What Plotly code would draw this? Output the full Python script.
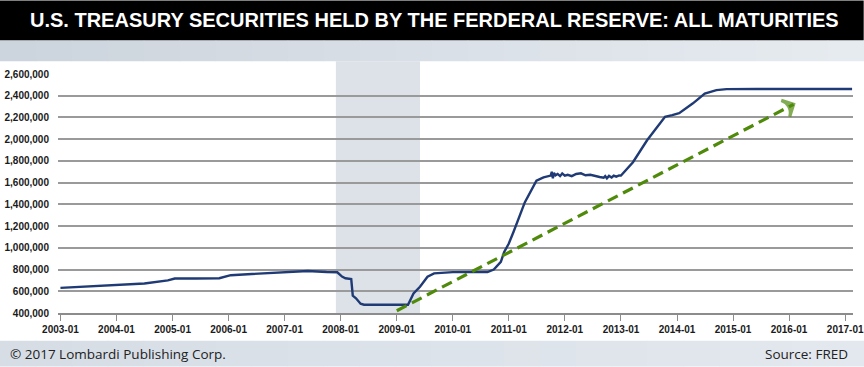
import plotly.graph_objects as go

# ---------------- data ----------------
dates = [
    "2003-01-01", "2003-07-01", "2004-01-01", "2004-07-01", "2004-12-01", "2005-01-15",
    "2005-06-01", "2005-11-01", "2006-01-15", "2006-06-01", "2006-09-01", "2007-01-01",
    "2007-06-01", "2007-10-01", "2007-12-10", "2008-01-10", "2008-02-01", "2008-03-10",
    "2008-03-20", "2008-04-10", "2008-05-10", "2008-06-01", "2009-03-15", "2009-04-20",
    "2009-06-01", "2009-07-20", "2009-09-01", "2010-01-01", "2010-08-15", "2010-09-25",
    "2010-10-20", "2010-11-10", "2010-12-01", "2011-01-01", "2011-02-01", "2011-04-15",
    "2011-06-30", "2011-08-15", "2011-10-01", "2011-10-08", "2011-10-15", "2011-10-22",
    "2011-11-01", "2011-11-15", "2011-12-01", "2011-12-15", "2012-01-01", "2012-01-20",
    "2012-02-15", "2012-03-15", "2012-04-15", "2012-05-15", "2012-06-15", "2012-07-15",
    "2012-08-15", "2012-09-10", "2012-09-20", "2012-10-01", "2012-10-15", "2012-11-01",
    "2012-11-15", "2012-12-01", "2012-12-20", "2013-01-01", "2013-03-20", "2013-06-20",
    "2013-10-15", "2013-12-01", "2014-01-15", "2014-04-15", "2014-07-01", "2014-09-15",
    "2014-11-20", "2015-06-01", "2016-06-01", "2017-02-15",
]
holdings = [
    631000, 645000, 655000, 672000, 700000, 717000,
    717000, 720000, 748000, 760000, 762000, 775000,
    787000, 778000, 775000, 735000, 720000, 712000,
    560000, 535000, 485000, 476000, 476000, 580000,
    642000, 734000, 765000, 776000, 777000, 800000,
    840000, 870000, 960000, 1040000, 1148000, 1418000,
    1618000, 1649000, 1665000, 1700000, 1640000, 1690000,
    1668000, 1680000, 1660000, 1685000, 1664000, 1672000,
    1660000, 1680000, 1686000, 1668000, 1672000, 1660000,
    1652000, 1645000, 1660000, 1640000, 1662000, 1648000,
    1665000, 1655000, 1667000, 1665000, 1788000, 1990000,
    2206000, 2221000, 2240000, 2330000, 2420000, 2452000,
    2461000, 2462000, 2463000, 2462000,
]

trend_dates = ["2009-01-01", "2016-01-31"]
trend_values = [421000, 2321000]

recession = ["2007-12-01", "2009-06-01"]

x_ticks = [f"{y}-01-01" for y in range(2003, 2018)]
x_tick_labels = [f"{y}-01" for y in range(2003, 2018)]
y_ticks = list(range(400000, 2600001, 200000))
y_tick_labels = [f"{v:,}" for v in y_ticks]

title_text = "U.S. TREASURY SECURITIES HELD BY THE FERDERAL RESERVE: ALL MATURITIES"
footer_left = "© 2017 Lombardi Publishing Corp."
footer_right = "Source: FRED"

# ---------------- layout geometry ----------------
W, H = 864, 367
ML, MR, MT, MB = 58.3, 10.7, 73.7, 53.7
PW, PH = W - ML - MR, H - MT - MB


def pxx(px):
    return (px - ML) / PW


def pyy(py):
    return (H - MB - py) / PH


def lerp_color(c0, c1, t):
    a = [int(c0[i:i + 2], 16) for i in (1, 3, 5)]
    b = [int(c1[i:i + 2], 16) for i in (1, 3, 5)]
    return "#" + "".join(f"{round(a[k] + (b[k] - a[k]) * t):02x}" for k in range(3))


fig = go.Figure()

fig.add_trace(go.Scatter(
    x=dates, y=holdings, mode="lines",
    line=dict(color="#1f3a74", width=2.4),
    hoverinfo="skip", showlegend=False,
))

fig.add_trace(go.Scatter(
    x=trend_dates, y=trend_values, mode="lines",
    line=dict(color="#4f8a0b", width=3.2, dash="11px,6px"),
    hoverinfo="skip", showlegend=False,
))
fig.add_trace(go.Scatter(
    x=trend_dates, y=trend_values, mode="markers",
    marker=dict(symbol=["circle", "arrow-wide-open"], size=[0, 13],
                angleref="previous", color="#4f8a0b",
                line=dict(color="#4f8a0b", width=3.2)),
    hoverinfo="skip", showlegend=False,
))

shapes = [
    # header black bar
    dict(type="rect", xref="paper", yref="paper", x0=pxx(0), x1=pxx(W),
         y0=pyy(40), y1=pyy(0), fillcolor="#000000", line_width=0, layer="below"),
]
# header light band (horizontal gradient)
N = 24
for i in range(N):
    shapes.append(dict(type="rect", xref="paper", yref="paper",
                       x0=pxx(W * i / N), x1=pxx(W * (i + 1) / N + 0.5),
                       y0=pyy(61), y1=pyy(40),
                       fillcolor=lerp_color("#ccd4dd", "#e6ebf0", i / (N - 1)),
                       line_width=0, layer="below"))
# footer band
for i in range(N):
    shapes.append(dict(type="rect", xref="paper", yref="paper",
                       x0=pxx(W * i / N), x1=pxx(W * (i + 1) / N + 0.5),
                       y0=pyy(H), y1=pyy(341),
                       fillcolor=lerp_color("#d6dde5", "#e3e8ee", i / (N - 1)),
                       line_width=0, layer="below"))
# recession shading
shapes.append(dict(type="rect", xref="x", yref="paper", x0=recession[0], x1=recession[1],
                   y0=0, y1=pyy(61), fillcolor="#dde2e9", line_width=0, layer="below"))

annotations = [
    dict(text=title_text, xref="paper", yref="paper", x=pxx(435), y=pyy(20),
         xanchor="center", yanchor="middle", showarrow=False,
         font=dict(family="Liberation Sans, Arial", size=20,
                   color="#ffffff", weight="bold")),
    dict(text=footer_left, xref="paper", yref="paper", x=pxx(8), y=pyy(354),
         xanchor="left", yanchor="middle", showarrow=False,
         font=dict(family="Open Sans, Noto Sans, sans-serif", size=13.5, color="#222222")),
    dict(text=footer_right, xref="paper", yref="paper", x=pxx(850), y=pyy(354),
         xanchor="right", yanchor="middle", showarrow=False,
         font=dict(family="Open Sans, Noto Sans, sans-serif", size=13.5, color="#222222")),
]

fig.update_layout(
    width=W, height=H,
    margin=dict(l=ML, r=MR, t=MT, b=MB, pad=0),
    paper_bgcolor="#ffffff", plot_bgcolor="rgba(0,0,0,0)",
    shapes=shapes, annotations=annotations,
    showlegend=False,
    xaxis=dict(
        type="date", range=["2002-12-16", "2017-02-21"],
        tickvals=x_ticks, ticktext=x_tick_labels,
        showgrid=False, zeroline=False, automargin=False,
        showline=True, linecolor="#8c8c8c", linewidth=1.5,
        ticks="outside", ticklen=6, tickcolor="#8c8c8c", tickwidth=1.2,
        tickfont=dict(family="Liberation Sans, Arial", size=10, color="#1a1a1a", weight="bold"),
        fixedrange=True,
    ),
    yaxis=dict(
        range=[400000, 2600000],
        tickvals=y_ticks, ticktext=y_tick_labels,
        showgrid=True, gridcolor="#9a9a9a", gridwidth=1.5, automargin=False,
        zeroline=False, showline=False, ticks="", ticklabelstandoff=8,
        tickfont=dict(family="Liberation Sans, Arial", size=10, color="#1a1a1a", weight="bold"),
        fixedrange=True,
    ),
)

fig.write_html(
    "out.html",
    config={"displayModeBar": False},
    post_script="document.body.style.margin='0';document.body.style.padding='0';"
                "document.body.style.overflow='hidden';",
)
